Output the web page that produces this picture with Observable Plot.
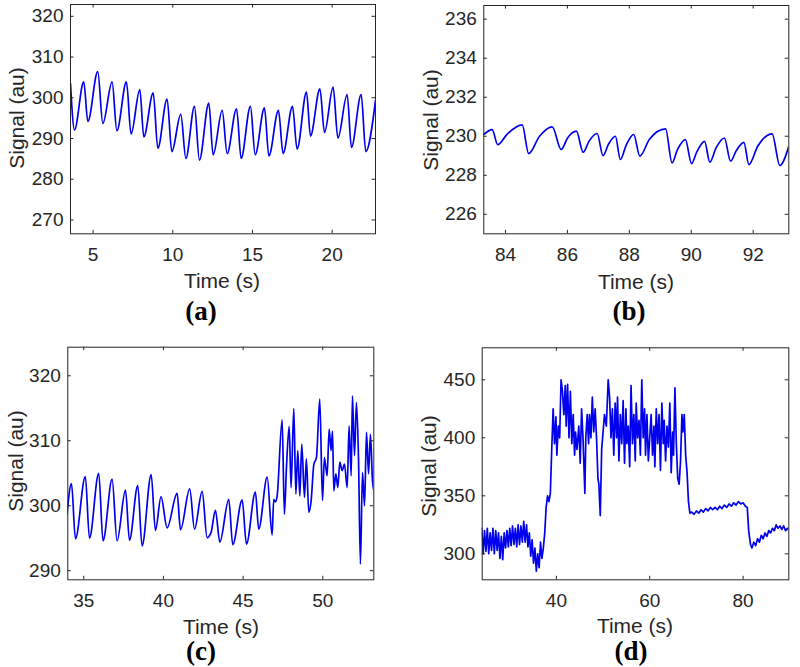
<!DOCTYPE html>
<html><head><meta charset="utf-8">
<script src="https://cdn.jsdelivr.net/npm/d3@7"></script>
<script src="https://cdn.jsdelivr.net/npm/@observablehq/plot@0.6"></script>
<style>
body{margin:0;background:#fff;}
#fig{position:relative;width:800px;height:667px;background:#fff;overflow:hidden;font-family:"Liberation Sans",Arial,sans-serif;}
.panel{position:absolute;}
.lab{position:absolute;color:#262626;font-size:21px;white-space:nowrap;transform:translate(-50%,-50%);line-height:1;}
.ylab{transform:translate(-50%,-50%) rotate(-90deg);}
.cap{position:absolute;font-family:"Liberation Serif","Times New Roman",serif;font-weight:bold;font-size:27px;color:#000;transform:translate(-50%,-50%);line-height:1;white-space:nowrap;}
</style>
</head><body>
<div id="fig"></div>
<script>
// ---------- data ----------
const aTime = [3.58,3.83,4.41,4.67,5.29,5.61,6.19,6.49,7.09,7.38,7.93,8.18,8.77,9.06,9.64,9.94,10.50,10.82,11.36,11.67,12.26,12.53,13.10,13.41,14.00,14.29,14.87,15.17,15.75,16.03,16.63,16.92,17.51,17.80,18.39,18.64,19.23,19.52,20.06,20.36,20.94,21.21,21.82,22.11,22.72];
const aSignal = [303.5,292.1,303.9,294.2,306.4,293.7,303.9,291.9,303.9,291.1,302.0,290.4,301.2,287.6,299.7,286.8,295.9,285.1,297.9,284.7,298.7,286.0,296.9,286.3,297.3,285.1,297.9,286.0,297.5,285.7,296.9,286.3,297.9,287.4,301.4,290.6,302.2,291.5,302.6,290.1,300.8,287.8,300.8,286.8,299.3];
const aXTicks = [5,10,15,20];
const aYTicks = [270,280,290,300,310,320];

const bTime = [83.30,83.57,83.75,84.05,84.54,84.75,85.10,85.51,85.80,86.00,86.29,86.51,86.70,86.96,87.15,87.33,87.55,87.71,87.90,88.14,88.34,88.65,89.17,89.38,89.55,89.81,90.01,90.18,90.43,90.60,90.80,91.07,91.27,91.45,91.70,91.86,92.15,92.61,92.86,93.15];
const bSignal = [230.09,230.34,229.57,230.1,230.58,229.11,230.0,230.48,229.32,229.9,230.26,229.18,229.75,230.14,229.01,229.6,230.0,228.81,229.55,230.09,228.98,229.85,230.38,228.63,229.3,229.83,228.60,229.2,229.74,228.67,229.4,229.91,228.72,229.25,229.69,228.55,229.5,230.12,228.50,229.49];
const bXTicks = [84,86,88,90,92];
const bYTicks = [226,228,230,232,234,236];

const cTime = [33.95,34.23,34.48,35.10,35.36,35.94,36.21,36.78,37.09,37.62,37.87,38.39,38.66,39.23,39.50,39.85,40.23,40.86,41.07,41.65,41.95,42.43,42.74,42.99,43.26,43.54,44.10,44.35,44.94,45.21,45.77,45.98,46.51,46.82,46.92,47.03,47.13,47.45,47.59,47.72,47.89,48.01,48.18,48.31,48.43,48.56,48.68,48.85,48.97,49.12,49.27,49.44,49.60,49.81,49.98,50.10,50.27,50.40,50.52,50.61,50.69,50.82,50.94,51.07,51.21,51.36,51.53,51.65,51.78,51.86,51.99,52.11,52.24,52.36,52.49,52.62,52.74,52.87,52.99,53.12,53.24,53.31];
const cSignal = [298.7,303.4,294.9,304.5,295.0,305.0,294.6,304.1,294.6,302.4,294.7,303.1,293.8,304.8,296.2,301.4,296.6,301.9,296.3,302.6,296.4,302.2,295.1,295.9,299.3,294.4,301.0,294.0,300.9,294.1,302.1,296.4,304.4,295.5,301.0,300.6,301.4,313.2,298.7,305.9,312.2,302.8,315.0,301.8,308.5,301.5,309.5,301.3,307.2,299.0,300.8,306.4,307.4,316.4,300.8,307.4,304.6,311.8,308.5,311.5,302.3,304.9,302.8,306.7,305.4,306.4,302.8,312.3,304.6,316.9,307.7,315.9,307.4,291.0,305.1,300.0,311.3,304.9,311.0,303.8,302.1,303.5];
const cXTicks = [35,40,45,50];
const cYTicks = [290,300,310,320];

const dTime = [24.0,24.3,24.6,24.9,25.2,25.5,25.8,26.1,26.4,26.7,27.0,27.3,27.6,27.9,28.2,28.5,28.8,29.1,29.4,29.7,30.0,30.3,30.6,30.9,31.2,31.5,31.8,32.1,32.4,32.7,33.0,33.3,33.6,33.9,34.2,34.5,34.8,35.1,35.4,35.7,36.0,36.3,36.6,36.9,37.2,37.5,37.8,38.1,38.4,38.7,39.0,39.3,39.6,39.9,40.1,40.4,40.7,41.0,41.3,41.6,41.9,42.1,42.4,42.7,43.0,43.3,43.6,43.9,44.1,44.4,44.8,45.1,45.4,45.7,46.1,46.3,46.6,46.9,47.1,47.4,47.7,48.0,48.3,48.6,48.9,49.1,49.4,49.7,50.0,50.3,50.7,51.1,51.4,51.7,52.0,52.3,52.6,52.9,53.1,53.4,53.7,54.0,54.3,54.6,54.9,55.1,55.4,55.7,56.0,56.3,56.6,56.9,57.1,57.4,57.7,58.0,58.3,58.6,58.9,59.1,59.4,59.7,60.0,60.3,60.6,60.9,61.1,61.4,61.7,62.0,62.3,62.6,62.9,63.1,63.4,63.7,64.0,64.3,64.6,64.9,65.1,65.4,65.7,66.0,66.3,66.6,66.9,67.1,67.4,67.7,68.0,68.3,68.6,69.0,69.5,70.0,70.5,71.0,71.5,72.0,72.5,73.0,73.5,74.0,74.5,75.0,75.5,76.0,76.5,77.0,77.5,78.0,78.5,79.0,79.5,80.0,80.5,80.9,81.2,81.6,81.9,82.3,82.7,83.1,83.5,83.9,84.3,84.7,85.1,85.5,85.9,86.3,86.7,87.1,87.5,87.9,88.3,88.7,89.1,89.5,89.9];
const dSignal = [322,300,320,302,322,300,318,303,322,300,320,303,318,296,315,295,318,305,320,306,322,307,324,308,322,306,325,308,324,310,328,310,325,306,318,298,312,292,305,285,300,288,310,296,305,318,340,350,345,352,390,425,395,418,385,410,400,450,440,420,445,410,446,400,440,395,420,385,405,390,410,378,425,400,352,400,420,395,420,400,435,405,425,400,365,360,333,390,405,420,410,450,435,400,425,385,430,400,435,380,420,395,432,378,425,395,410,375,445,395,420,380,430,400,415,385,450,400,425,385,420,380,400,420,385,410,375,425,395,420,372,430,395,415,380,410,392,430,370,405,385,443,395,365,360,380,420,405,420,385,370,345,335,336,334,337,335,338,336,339,337,340,338,340,338,341,339,342,340,343,341,344,342,345,343,344,341,340,320,308,305,310,307,313,310,316,313,318,315,320,318,322,320,325,322,324,321,324,320,322,320];
const dXTicks = [40,60,80];
const dYTicks = [300,350,400,450];

const panels = [
  {t:aTime, s:aSignal, xt:aXTicks, yt:aYTicks, xd:[3.58,22.72], yd:[266.6,322.9], curve:"monotone-x",
   left:0, top:0, m:[4,25,36.7,70], time:[222,280], sig:[16,118], cap:"(a)", capPos:[201,311]},
  {t:bTime, s:bSignal, xt:bXTicks, yt:bYTicks, xd:[83.3,93.15], yd:[225.0,236.7], curve:"monotone-x",
   left:400, top:0, m:[5,11.7,36.7,83.3], time:[636,281], sig:[430,120], cap:"(b)", capPos:[629,311]},
  {t:cTime, s:cSignal, xt:cXTicks, yt:cYTicks, xd:[34.0,53.2], yd:[288.6,324.4], curve:"monotone-x",
   left:0, top:340, m:[6.7,26.7,30.7,67.3], time:[221,626], sig:[15,461], cap:"(c)", capPos:[201,651]},
  {t:dTime, s:dSignal, xt:dXTicks, yt:dYTicks, xd:[24.1,89.8], yd:[277.6,477.6], curve:"linear",
   left:400, top:340, m:[7.3,11.7,30.7,81.7], time:[635,625], sig:[428,466], cap:"(d)", capPos:[631,651]}
];

const fig = document.getElementById("fig");
const W = 400, H = 270, TK = 3.5, AX = "#262626";

for (const p of panels) {
  const [mt, mr, mb, ml] = p.m;
  const iw = W - ml - mr, ih = H - mt - mb;
  const data = p.t.map((t, i) => ({t, v: p.s[i]}));
  const chart = Plot.plot({
    width: W, height: H,
    marginTop: mt, marginRight: mr, marginBottom: mb, marginLeft: ml,
    style: {fontFamily: "'Liberation Sans', Arial, sans-serif", fontSize: "19px", color: AX, background: "transparent", overflow: "visible"},
    x: {domain: p.xd, label: null},
    y: {domain: p.yd, label: null},
    marks: [
      Plot.line(data, {x: "t", y: "v", stroke: "#0000ee", strokeWidth: 1.7, curve: p.curve, clip: true}),
      Plot.frame({stroke: AX, strokeWidth: 1}),
      Plot.tickX(p.xt, {x: d => d, stroke: AX, insetTop: ih - TK}),
      Plot.tickX(p.xt, {x: d => d, stroke: AX, insetBottom: ih - TK}),
      Plot.tickY(p.yt, {y: d => d, stroke: AX, insetRight: iw - TK}),
      Plot.tickY(p.yt, {y: d => d, stroke: AX, insetLeft: iw - TK}),
      Plot.axisX({ticks: p.xt, tickSize: 0, tickPadding: 13.5, label: null, tickFormat: d => String(d)}),
      Plot.axisY({ticks: p.yt, tickSize: 0, tickPadding: 7, label: null, tickFormat: d => String(d)})
    ]
  });
  const wrap = document.createElement("div");
  wrap.className = "panel";
  wrap.style.left = p.left + "px";
  wrap.style.top = p.top + "px";
  wrap.appendChild(chart);
  fig.appendChild(wrap);

  const tl = document.createElement("div");
  tl.className = "lab"; tl.textContent = "Time (s)";
  tl.style.left = p.time[0] + "px"; tl.style.top = p.time[1] + "px";
  fig.appendChild(tl);

  const sl = document.createElement("div");
  sl.className = "lab ylab"; sl.textContent = "Signal (au)";
  sl.style.left = p.sig[0] + "px"; sl.style.top = p.sig[1] + "px";
  fig.appendChild(sl);

  const cp = document.createElement("div");
  cp.className = "cap"; cp.textContent = p.cap;
  cp.style.left = p.capPos[0] + "px"; cp.style.top = p.capPos[1] + "px";
  fig.appendChild(cp);
}
</script>
</body></html>
